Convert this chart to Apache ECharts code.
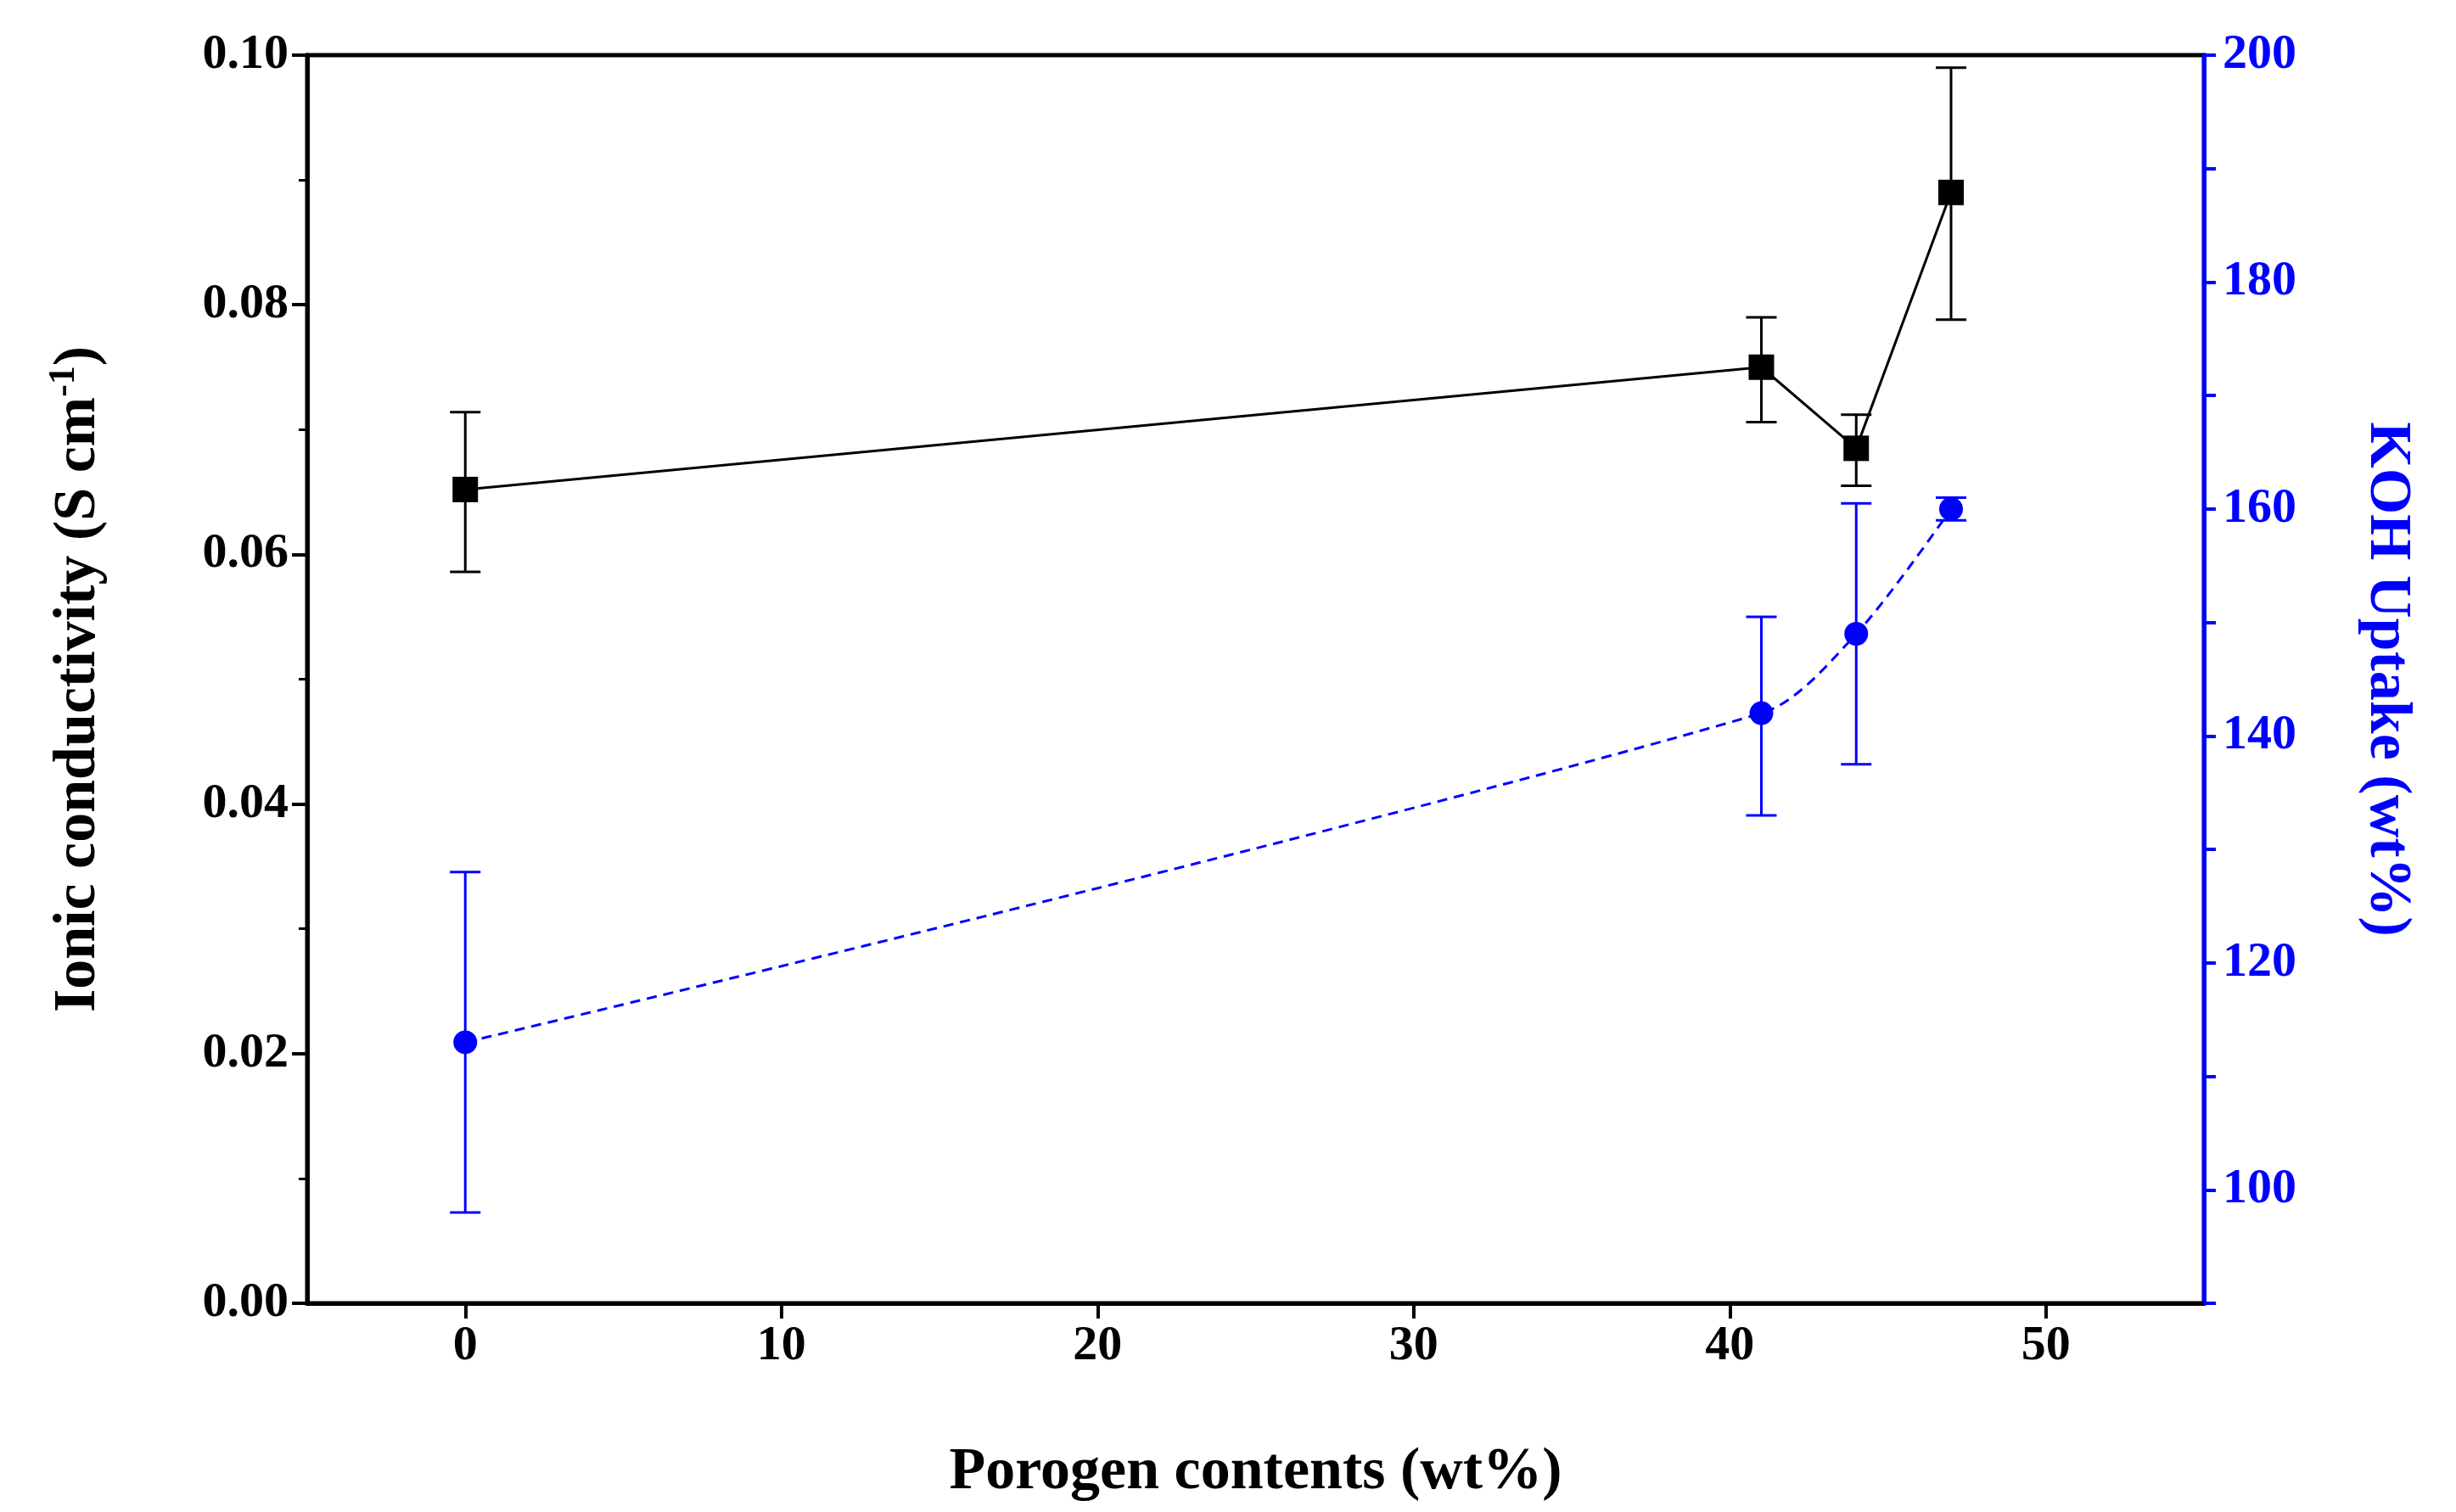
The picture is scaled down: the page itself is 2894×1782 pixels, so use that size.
<!DOCTYPE html>
<html><head><meta charset="utf-8">
<script src="https://cdn.jsdelivr.net/npm/echarts@6/dist/echarts.min.js"></script>
<style>html,body{margin:0;padding:0;background:#fff}#c{width:2894px;height:1782px}</style>
</head><body><div id="c"></div>
<script>
const porogen = [0, 41, 44, 47];
const conductivity = [0.0652, 0.0750, 0.0685, 0.0890];
const condLow = [0.0586, 0.0706, 0.0655, 0.0788];
const condHigh = [0.0714, 0.0790, 0.0712, 0.0990];
const uptake = [113, 142, 149, 160];
const upLow = [98, 133, 137.5, 159];
const upHigh = [128, 150.5, 160.5, 161];

const F = '"Liberation Serif","Times New Roman",serif';
const chart = echarts.init(document.getElementById('c'));
function errSeries(low, high, color, yIndex) {
  return {
    type: 'custom', yAxisIndex: yIndex, z: 3,
    data: porogen.map((x, i) => [x, low[i], high[i]]),
    renderItem: (params, api) => {
      const lo = api.coord([api.value(0), api.value(1)]);
      const hi = api.coord([api.value(0), api.value(2)]);
      const w = 18;
      const st = { stroke: color, lineWidth: 3 };
      return { type: 'group', children: [
        { type: 'line', shape: { x1: lo[0], y1: lo[1], x2: hi[0], y2: hi[1] }, style: st },
        { type: 'line', shape: { x1: lo[0] - w, y1: lo[1], x2: lo[0] + w, y2: lo[1] }, style: st },
        { type: 'line', shape: { x1: hi[0] - w, y1: hi[1], x2: hi[0] + w, y2: hi[1] }, style: st }
      ]};
    }
  };
}
const axisLab = { fontFamily: F, fontWeight: 'bold', fontSize: 58, color: '#000' };
chart.setOption({
  animation: false,
  grid: { left: 362, right: 297, top: 65, bottom: 246, show: true, borderColor: '#000', borderWidth: 5 },
  xAxis: {
    type: 'value', min: -5, max: 55, interval: 10,
    axisLine: { onZero: false, lineStyle: { color: '#000', width: 5 } },
    axisTick: { length: 18, lineStyle: { width: 4 }, customValues: [0,10,20,30,40,50] },
    minorTick: { show: true, splitNumber: 2, length: 10, lineStyle: { color: '#000', width: 3 } },
    axisLabel: Object.assign({ margin: 22, customValues: [0,10,20,30,40,50] }, axisLab),
    splitLine: { show: false },
    name: 'Porogen contents (wt%)', nameLocation: 'middle', nameGap: 165,
    nameTextStyle: { fontFamily: F, fontWeight: 'bold', fontSize: 70, color: '#000' }
  },
  yAxis: [{
    type: 'value', min: 0, max: 0.10, interval: 0.02,
    axisLine: { show: true, onZero: false, lineStyle: { color: '#000', width: 5 } },
    axisTick: { show: true, length: 18, lineStyle: { width: 4 } },
    minorTick: { show: true, splitNumber: 2, length: 10, lineStyle: { color: '#000', width: 3 } },
    axisLabel: Object.assign({ margin: 22, formatter: v => v.toFixed(2) }, axisLab),
    splitLine: { show: false },
    name: '{n|Ionic conductivity (S cm}{s|-1}{n|)}', nameLocation: 'middle', nameGap: 230,
    nameTextStyle: { rich: {
      n: { fontFamily: F, fontWeight: 'bold', fontSize: 70, color: '#000' },
      s: { fontFamily: F, fontWeight: 'bold', fontSize: 44, color: '#000', verticalAlign: 'top', padding: [0,0,34,0] } } }
  }, {
    type: 'value', min: 90, max: 200, interval: 10, position: 'right',
    axisLine: { show: true, onZero: false, lineStyle: { color: '#0000ff', width: 5 } },
    axisTick: { show: true, length: 14, lineStyle: { width: 4 } },
    axisLabel: Object.assign({}, axisLab, { color: '#0000ff', margin: 22,
      formatter: v => (v >= 100 && v % 20 === 0) ? String(v) : '' }),
    splitLine: { show: false },
    name: 'KOH Uptake (wt%)', nameLocation: 'middle', nameGap: 180, nameRotate: -90,
    nameTextStyle: { fontFamily: F, fontWeight: 'bold', fontSize: 70, color: '#0000ff' }
  }],
  series: [
    { type: 'line', yAxisIndex: 0, data: porogen.map((x, i) => [x, conductivity[i]]),
      symbol: 'rect', symbolSize: 30, itemStyle: { color: '#000' },
      lineStyle: { color: '#000', width: 3 }, z: 4 },
    errSeries(condLow, condHigh, '#000', 0),
    { type: 'line', yAxisIndex: 1, data: porogen.map((x, i) => [x, uptake[i]]),
      symbol: 'circle', symbolSize: 28, smooth: 0.3, itemStyle: { color: '#0000ff' },
      lineStyle: { color: '#0000ff', width: 3, type: [12, 8] }, z: 4 },
    errSeries(upLow, upHigh, '#0000ff', 1)
  ]
});
</script></body></html>
